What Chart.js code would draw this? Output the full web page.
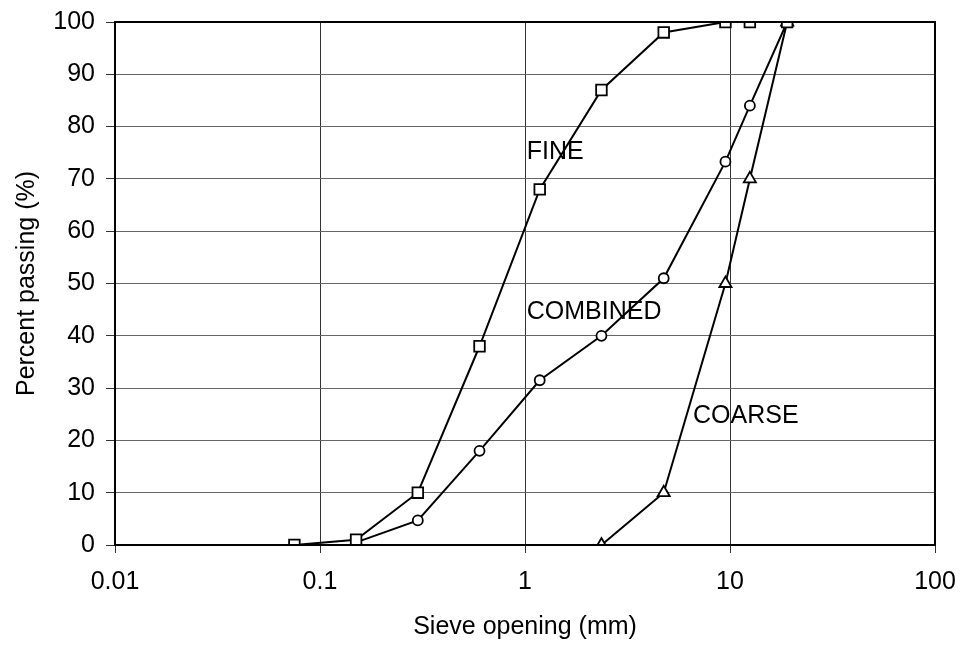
<!DOCTYPE html>
<html>
<head>
<meta charset="utf-8">
<script src="https://cdn.jsdelivr.net/npm/chart.js@4"></script>
<style>
  html, body { margin: 0; padding: 0; background: #fff; }
  #wrap { width: 961px; height: 645px; position: relative; }
</style>
</head>
<body>
<div id="wrap"><canvas id="c" width="961" height="645"></canvas></div>
<script>
// ---- Data ----
const fineSieves = [0.075, 0.15, 0.3, 0.6, 1.18, 2.36, 4.75, 9.5, 12.5, 19];
const finePassing = [0, 1, 10, 38, 68, 87, 98, 100, 100, 100];

const combinedSieves = [0.15, 0.3, 0.6, 1.18, 2.36, 4.75, 9.5, 12.5, 19];
const combinedPassing = [0.5, 4.7, 18, 31.5, 40, 51, 73.3, 84, 100];

const coarseSieves = [2.36, 4.75, 9.5, 12.5, 19];
const coarsePassing = [0, 10, 50, 70, 100];

const xTickValues = [0.01, 0.1, 1, 10, 100];
const xTickLabels = ['0.01', '0.1', '1', '10', '100'];

const seriesNames = ['FINE', 'COMBINED', 'COARSE'];
const labelX = [1.02, 1.02, 6.6];
const labelY = [75.2, 44.5, 24.7];

const FONT = '"Liberation Sans", Arial, sans-serif';

function pts(xs, ys) { return xs.map((x, i) => ({ x: x, y: ys[i] })); }

const baseDs = {
  showLine: true,
  borderColor: '#000',
  borderWidth: 2,
  pointBorderColor: '#000',
  pointBackgroundColor: '#fff',
  pointBorderWidth: 1.8,
  tension: 0
};

const borderPlugin = {
  id: 'plotBorder',
  afterDatasetsDraw(chart) {
    const a = chart.chartArea, ctx = chart.ctx;
    ctx.save();
    ctx.strokeStyle = '#000';
    ctx.lineWidth = 2;
    ctx.strokeRect(a.left, a.top, a.right - a.left, a.bottom - a.top);
    ctx.restore();
  }
};

const labelPlugin = {
  id: 'seriesLabels',
  afterDatasetsDraw(chart) {
    const xs = chart.scales.x, ys = chart.scales.y, ctx = chart.ctx;
    ctx.save();
    ctx.fillStyle = '#000';
    ctx.font = '25px ' + FONT;
    ctx.textAlign = 'left';
    ctx.textBaseline = 'middle';
    seriesNames.forEach((n, i) => {
      ctx.fillText(n, xs.getPixelForValue(labelX[i]), ys.getPixelForValue(labelY[i]));
    });
    ctx.restore();
  }
};

new Chart(document.getElementById('c'), {
  type: 'scatter',
  data: {
    datasets: [
      Object.assign({}, baseDs, { label: seriesNames[0], data: pts(fineSieves, finePassing), pointStyle: 'rect', pointRadius: 7.5, pointHoverRadius: 7.5 }),
      Object.assign({}, baseDs, { label: seriesNames[1], data: pts(combinedSieves, combinedPassing), pointStyle: 'circle', pointRadius: 5, pointHoverRadius: 5 }),
      Object.assign({}, baseDs, { label: seriesNames[2], data: pts(coarseSieves, coarsePassing), pointStyle: 'triangle', pointRadius: 7, pointHoverRadius: 7 })
    ]
  },
  options: {
    responsive: false,
    animation: false,
    devicePixelRatio: 1,
    layout: { padding: { top: 22, right: 26, bottom: 0, left: 0 } },
    plugins: { legend: { display: false }, tooltip: { enabled: false } },
    scales: {
      x: {
        type: 'logarithmic',
        min: 0.01,
        max: 100,
        afterBuildTicks(scale) { scale.ticks = xTickValues.map(v => ({ value: v })); },
        afterFit(scale) { scale.height = 100; scale.paddingLeft = 0; scale.paddingRight = 0; },
        ticks: {
          autoSkip: false,
          maxRotation: 0,
          color: '#000',
          font: { family: FONT, size: 25 },
          padding: 14,
          callback: (v, i) => xTickLabels[i]
        },
        grid: { color: '#333', lineWidth: 1, tickLength: 8, tickColor: '#333' },
        border: { color: '#000', width: 2 },
        title: { display: true, text: 'Sieve opening (mm)', color: '#000', font: { family: FONT, size: 25 }, padding: { top: 0, bottom: 3 } }
      },
      y: {
        min: 0,
        max: 100,
        afterFit(scale) { scale.width = 115; scale.paddingTop = 0; scale.paddingBottom = 0; },
        ticks: {
          stepSize: 10,
          color: '#000',
          font: { family: FONT, size: 25 },
          padding: 11
        },
        grid: { color: '#666', lineWidth: 1, tickLength: 9, tickColor: '#333' },
        border: { color: '#000', width: 2 },
        title: { display: true, text: 'Percent passing (%)', color: '#000', font: { family: FONT, size: 25 }, padding: { top: 12, bottom: 0 } }
      }
    }
  },
  plugins: [borderPlugin, labelPlugin]
});
</script>
</body>
</html>
